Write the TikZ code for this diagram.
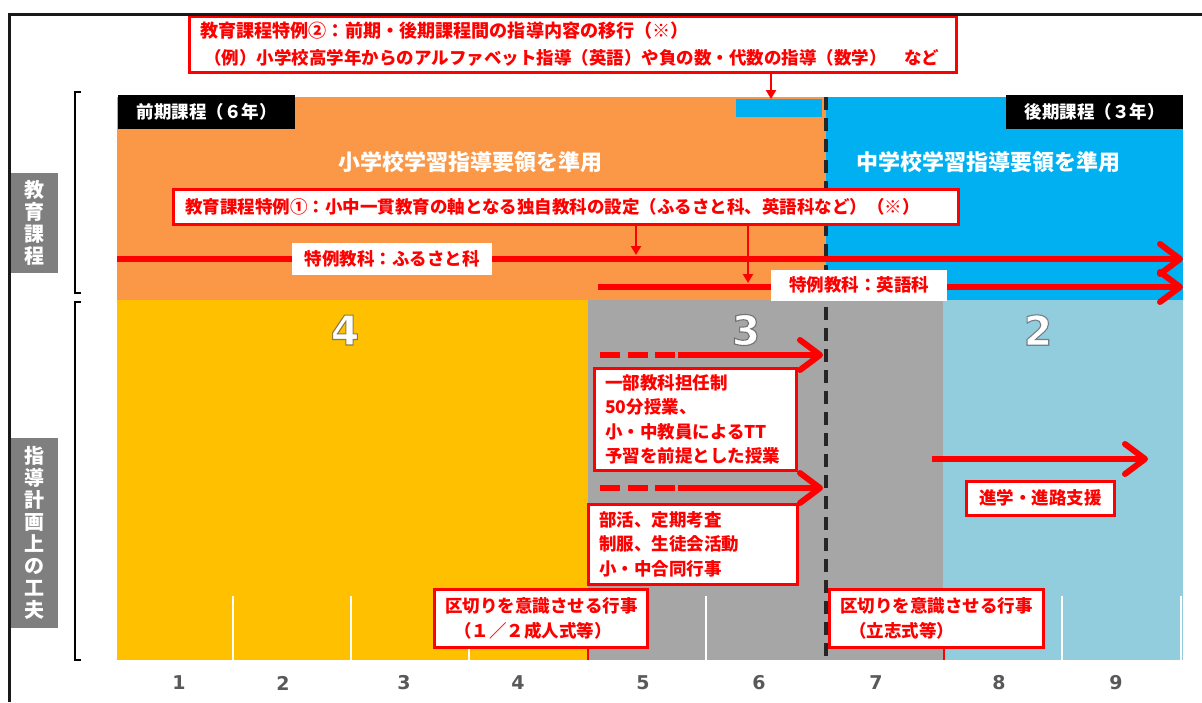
\documentclass[tikz,border=0pt]{standalone}
\usepackage{fontspec}
\setmainfont{Noto Sans CJK JP}
\newfontfamily\numfont{DejaVu Sans}
\usetikzlibrary{arrows.meta,calc}
\definecolor{orangec}{RGB}{250,152,72}
\definecolor{bluec}{RGB}{0,176,240}
\definecolor{yellowc}{RGB}{255,192,0}
\definecolor{grayc}{RGB}{166,166,166}
\definecolor{lbluec}{RGB}{146,205,221}
\definecolor{redc}{RGB}{255,0,0}
\definecolor{labelgray}{RGB}{127,127,127}
\definecolor{numgray}{RGB}{89,89,89}
\newcommand\glowtxt[3]{\special{pdf:literal direct 2 Tr #1 w #2 RG}#3\special{pdf:literal direct 0 Tr}}
\begin{document}
\begin{tikzpicture}[x=1pt,y=-1pt,
  jp/.style={font=\bfseries\fontsize{17.5}{24.5}\selectfont},
  redbox/.style={draw=redc, line width=2.5pt, fill=white, text=redc, jp, inner xsep=11pt, inner ysep=0pt},
  tabbox/.style={fill=black, text=white, jp, anchor=north west, inner sep=0pt, minimum height=34pt, minimum width=177pt},
  labbox/.style={fill=white, text=redc, jp, inner sep=0pt},
  sidelab/.style={fill=labelgray, text=white, anchor=north west, inner sep=0pt, minimum width=47pt, align=center, font=\bfseries\fontsize{20}{22}\selectfont},
  head/.style={text=white, font=\bfseries\fontsize{22}{22}\selectfont},
  bignum/.style={text=white, font=\numfont\bfseries\fontsize{41}{41}\selectfont},
  gradenum/.style={text=numgray, font=\numfont\bfseries\fontsize{19}{19}\selectfont},
  redarrow/.style={draw=redc, line width=6pt, -{Straight Barb[length=20pt,width=30pt,round]}},
  thinarrow/.style={draw=redc, line width=2.5pt, -{Triangle[length=9pt,width=10pt]}},
  stem/.style={draw=redc, line width=2.5pt},
  bracketline/.style={draw=black, line width=2.5pt}
]
\useasboundingbox (0,0) rectangle (1202,702);
\fill[white] (0,0) rectangle (1202,702);

% coloured areas
\fill[orangec] (117,97) rectangle (826,300);
\fill[bluec] (826,97) rectangle (1183,300);
\fill[yellowc] (117,300) rectangle (588,660);
\fill[grayc] (588,300) rectangle (943,660);
\fill[lbluec] (943,300) rectangle (1183,660);
\node[fill=bluec, inner sep=0pt, minimum width=86pt, minimum height=18pt, anchor=north west] (brect) at (736,99) {};

% grade grid lines
\foreach \x in {233,351,469,706,1062,1181}
  \draw[white, line width=1.5pt] (\x,596) -- (\x,660);

% boundary dashed line
\draw[black!85, line width=4pt, dash pattern=on 13pt off 8pt] (826,97) -- (826,660);

% tabs
\node[tabbox] (tabA) at (118,95) {前期課程（６年）};
\node[tabbox] (tabB) at (1006,95) {後期課程（３年）};

% headings
\node[head] (hA) at (470,162) {小学校学習指導要領を準用};
\node[head] (hB) at (988,162) {中学校学習指導要領を準用};

% special subject lines
\coordinate (f0) at (117,259);
\coordinate (f1) at (1183,259);
\draw[redarrow] (f0) -- (f1);
\node[labbox, minimum width=200pt, minimum height=32pt] (fl) at (392,259) {特例教科：ふるさと科};
\coordinate (e0) at (598,287);
\coordinate (e1) at (1183,287);
\draw[redarrow] (e0) -- (e1);
\node[labbox, minimum width=176pt, minimum height=31pt] (el) at (859,285) {特例教科：英語科};

% callout 1
\node[redbox, anchor=north west, minimum width=785pt, minimum height=35pt, text width=761pt, align=left] (c1) at (172,188)
  {教育課程特例①：小中一貫教育の軸となる独自教科の設定（ふるさと科、英語科など）（※）};
\coordinate (a1t) at (636,255);
\coordinate (a2t) at (748,283);
\draw[thinarrow] (c1.south -| a1t) -- (a1t);
\draw[thinarrow] (c1.south -| a2t) -- (a2t);

% callout 2
\node[redbox, anchor=north west, minimum width=767pt, minimum height=56pt, text width=745pt, align=left,
      font=\bfseries\fontsize{17.5}{27}\selectfont] (c2) at (188,15)
  {{\fontsize{18.1}{27}\selectfont 教育課程特例②：前期・後期課程間の指導内容の移行（※）}\\
   \hspace*{4pt}（例）小学校高学年からのアルファベット指導（英語）や負の数・代数の指導（数学）　など};
\coordinate (a3t) at (771,99);
\draw[thinarrow] (c2.south -| a3t) -- (a3t);

% big numbers with thin dark outline
\node[bignum] (n4) at (345,330) {\glowtxt{1.1}{0.55 0.48 0.3}{4}};
\node[bignum] (n3) at (746,330) {\glowtxt{1.1}{0.45 0.45 0.45}{3}};
\node[bignum] (n2) at (1038,330) {\glowtxt{1.1}{0.45 0.5 0.53}{2}};

% dashed arrows
\coordinate (d1s) at (600,355);
\coordinate (d1e) at (823,355);
\draw[redarrow, dash pattern=on 20pt off 8pt on 20pt off 7pt on 20pt off 3pt on 400pt] (d1s) -- (d1e);
\coordinate (d2s) at (600,488);
\coordinate (d2e) at (823,488);
\draw[redarrow, dash pattern=on 20pt off 8pt on 20pt off 7pt on 20pt off 3pt on 400pt] (d2s) -- (d2e);

% boxes in grade 5-6
\node[redbox, anchor=north west, minimum width=202pt, minimum height=102pt, text width=180pt, align=left] (b1) at (593,367)
  {一部教科担任制\\50分授業、\\小・中教員によるTT\\予習を前提とした授業};
\node[redbox, anchor=north west, minimum width=209pt, minimum height=80pt, text width=187pt, align=left] (b2) at (587,503)
  {部活、定期考査\\制服、生徒会活動\\小・中合同行事};

% separation events
\node[redbox, anchor=north west, minimum width=213pt, minimum height=58pt, text width=191pt, align=left] (k1) at (433,588)
  {区切りを意識させる行事\\\hspace*{9pt}（１／２成人式等）};
\coordinate (s1) at (588,660);
\draw[stem] (k1.south -| s1) -- (s1);
\node[redbox, anchor=north west, minimum width=214pt, minimum height=58pt, text width=192pt, align=left] (k2) at (828,588)
  {区切りを意識させる行事\\\hspace*{9pt}（立志式等）};
\coordinate (s2) at (944,660);
\draw[stem] (k2.south -| s2) -- (s2);

% career support
\coordinate (j0) at (932,459);
\coordinate (j1) at (1148,459);
\draw[redarrow] (j0) -- (j1);
\node[redbox, anchor=north west, minimum width=148pt, minimum height=34pt] (jb) at (965,480) {進学・進路支援};

% grade numbers
\foreach \x/\n in {179/1,283/2,404/3,518/4,643/5,759/6,876/7,999/8,1116/9}
  \node[gradenum] (g\n) at (\x,683) {\n};

% side labels and brackets
\node[sidelab, minimum height=100pt] (L1) at (11,173) {教\\育\\課\\程};
\node[sidelab, minimum height=190pt] (L2) at (11,438) {指\\導\\計\\画\\上\\の\\工\\夫};
\draw[bracketline] (81,92) -- (75,92) -- (75,293) -- (81,293);
\draw[bracketline] (81,302) -- (75,302) -- (75,660) -- (81,660);

% frame
\draw[black!90, line width=3pt] (9,702) -- (9,14) -- (1202,14);
\end{tikzpicture}
\end{document}
